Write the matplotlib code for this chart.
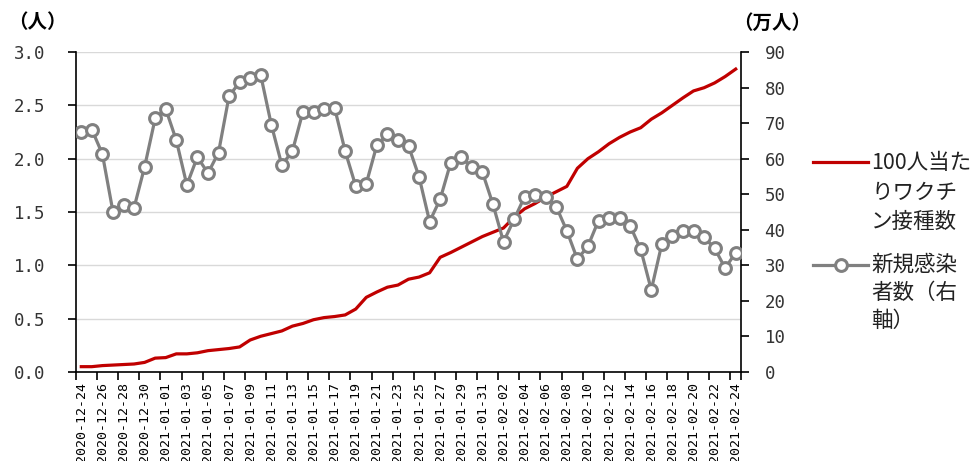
import matplotlib
matplotlib.use("Agg")
import matplotlib.pyplot as plt
from matplotlib.lines import Line2D
import numpy as np
import pandas as pd

plt.rcParams['font.family'] = ['Noto Sans CJK JP', 'DejaVu Sans']

# data: 2020-12-24 .. 2021-02-24, daily
dates = pd.date_range('2020-12-24', '2021-02-24').strftime('%Y-%m-%d').tolist()

# 100人当たりワクチン接種数 (left axis, 人)
vaccine_per100 = [0.05, 0.05, 0.06, 0.065, 0.07, 0.075, 0.09, 0.13, 0.135, 0.17,
                  0.17, 0.18, 0.20, 0.21, 0.22, 0.235, 0.30, 0.335, 0.36, 0.385,
                  0.43, 0.455, 0.49, 0.51, 0.52, 0.535, 0.59, 0.70, 0.75, 0.795,
                  0.815, 0.87, 0.89, 0.93, 1.075, 1.12, 1.17, 1.22, 1.27, 1.31,
                  1.35, 1.45, 1.53, 1.58, 1.64, 1.69, 1.74, 1.91, 2.00, 2.065,
                  2.14, 2.20, 2.25, 2.29, 2.37, 2.43, 2.50, 2.57, 2.635, 2.665,
                  2.71, 2.77, 2.84]

# 新規感染者数 (right axis, 万人)
new_cases = [67.6, 68.2, 61.3, 45.1, 47.0, 46.2, 57.7, 71.3, 74.0, 65.2,
             52.6, 60.5, 55.9, 61.7, 77.6, 81.5, 82.6, 83.5, 69.6, 58.2,
             62.1, 73.2, 73.2, 74.0, 74.3, 62.1, 52.3, 53.0, 63.8, 66.8,
             65.2, 63.6, 54.9, 42.3, 48.6, 58.9, 60.4, 57.6, 56.2, 47.2,
             36.6, 42.9, 49.3, 49.8, 49.3, 46.5, 39.7, 31.7, 35.4, 42.6,
             43.2, 43.2, 41.1, 34.5, 23.1, 36.0, 38.2, 39.7, 39.7, 37.9,
             34.8, 29.2, 33.6]

left_ticks = [0.0, 0.5, 1.0, 1.5, 2.0, 2.5, 3.0]
right_ticks = [0, 10, 20, 30, 40, 50, 60, 70, 80, 90]

red = '#C00000'
gray = '#808080'
W, H = 979, 461
mono = 'DejaVu Sans Mono'

fig = plt.figure(figsize=(W / 100, H / 100), dpi=100)
ax = fig.add_axes([76 / W, 1 - 372 / H, (741 - 76) / W, (372 - 52) / H])
ax2 = ax.twinx()

x = np.arange(len(dates))
ax.plot(x, vaccine_per100, color=red, lw=2.3, solid_joinstyle='round', zorder=3)
ax2.plot(x, new_cases, color=gray, lw=2.3, marker='o', ms=8.5, mfc='white',
         mec=gray, mew=2.2, zorder=3)

ax.set_xlim(-0.5, len(dates) - 0.5)
ax.set_ylim(0, 3.0)
ax2.set_ylim(0, 90)

# grid
ax.set_yticks(left_ticks)
ax.set_yticklabels([f'{v:.1f}' for v in left_ticks], fontfamily=mono)
ax.yaxis.grid(True, color='#d9d9d9', lw=1)
ax.set_axisbelow(True)
ax2.set_yticks(right_ticks)
ax2.set_yticklabels([str(v) for v in right_ticks], fontfamily=mono)

# x axis: labels every 2nd day, ticks at category boundaries
ax.set_xticks(x[::2])
ax.set_xticklabels(dates[::2], rotation=90, fontfamily=mono)
ax.set_xticks(list(np.arange(-0.5, len(dates), 2)) + [len(dates) - 0.5], minor=True)
ax.tick_params(axis='x', which='major', length=0, pad=7, labelsize=9.5, colors='black')
ax.tick_params(axis='x', which='minor', length=6, width=1.2, direction='out', color='black')
ax.tick_params(axis='y', length=6, width=1.2, direction='out', pad=16, labelsize=12.5,
               labelcolor='#333333')
ax2.tick_params(axis='y', length=6, width=1.2, direction='out', pad=11, labelsize=12.5,
                labelcolor='#333333')

for a in (ax, ax2):
    a.spines['top'].set_visible(False)
    for s in a.spines.values():
        s.set_linewidth(1.2)
        s.set_color('black')
ax.spines['right'].set_visible(False)
ax2.spines['left'].set_visible(False)
ax2.spines['bottom'].set_visible(False)

# axis unit titles
fig.text(8 / W, 1 - 23 / H, '（人）', fontsize=14, fontweight='bold', va='center', ha='left')
fig.text(733 / W, 1 - 23 / H, '（万人）', fontsize=14, fontweight='bold', va='center', ha='left')

# legend (drawn by hand so handles sit on the first text line)
fig.add_artist(Line2D([813 / W, 868 / W], [1 - 162 / H] * 2, transform=fig.transFigure,
                      color=red, lw=2.3))
fig.add_artist(Line2D([813 / W, 868 / W], [1 - 265 / H] * 2, transform=fig.transFigure,
                      color=gray, lw=2.3))
fig.add_artist(Line2D([841 / W], [1 - 265 / H], transform=fig.transFigure,
                      marker='o', ms=8.5, mfc='white', mec=gray, mew=2.2))
leg1 = ['100人当た', 'りワクチ', 'ン接種数']
leg2 = ['新規感染', '者数（右', '軸）']
for i, t in enumerate(leg1):
    fig.text(871 / W, 1 - (163 + 29.5 * i) / H, t, fontsize=15.5, va='center', ha='left',
             color='#222222')
for i, t in enumerate(leg2):
    fig.text(871 / W, 1 - (265 + 28 * i) / H, t, fontsize=15.5, va='center', ha='left',
             color='#222222')

fig.savefig('out.png', dpi=100)
